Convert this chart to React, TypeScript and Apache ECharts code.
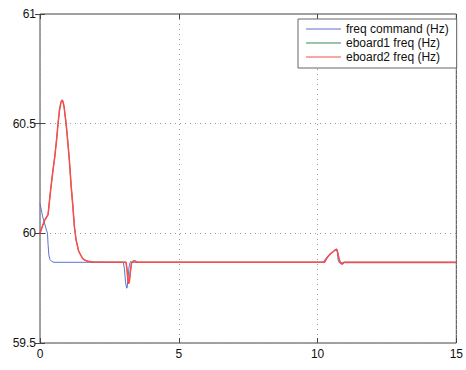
import React, { useEffect, useRef } from "react";
import * as echarts from "echarts";

const xTicks = [0, 5, 10, 15];
const yTicks = [59.5, 60, 60.5, 61];

const seriesNames = ["freq command (Hz)", "eboard1 freq (Hz)", "eboard2 freq (Hz)"];

const cmdT = [0, 0.1, 0.23, 0.27, 0.29, 0.32, 0.36, 0.42, 0.5, 3.0, 3.04, 3.08, 3.12, 3.14, 3.17, 3.21, 3.26, 3.32, 10.2, 10.3, 10.4, 10.5, 10.6, 10.67, 10.71, 10.74, 10.78, 15];
const cmdV = [60.136, 60.074, 60.016, 60.0, 59.95, 59.9, 59.88, 59.872, 59.868, 59.868, 59.84, 59.78, 59.75, 59.752, 59.79, 59.85, 59.872, 59.868, 59.868, 59.885, 59.9, 59.91, 59.92, 59.925, 59.92, 59.88, 59.866, 59.866];

const boardT = [0, 0.08, 0.17, 0.29, 0.38, 0.46, 0.53, 0.6, 0.65, 0.7, 0.75, 0.79, 0.83, 0.87, 0.94, 1.0, 1.06, 1.12, 1.18, 1.24, 1.3, 1.39, 1.47, 1.54, 1.63, 1.72, 1.9, 3.1, 3.13, 3.16, 3.19, 3.22, 3.26, 3.3, 3.35, 3.4, 3.5, 10.25, 10.35, 10.45, 10.55, 10.63, 10.69, 10.73, 10.78, 10.84, 10.9, 10.95, 15];
const eboard1V = [60.0, 60.03, 60.06, 60.085, 60.195, 60.28, 60.347, 60.43, 60.5, 60.56, 60.595, 60.608, 60.6, 60.575, 60.5, 60.42, 60.33, 60.22, 60.13, 60.03, 59.97, 59.92, 59.9, 59.885, 59.877, 59.873, 59.869, 59.868, 59.84, 59.8, 59.77, 59.78, 59.83, 59.865, 59.872, 59.876, 59.868, 59.868, 59.89, 59.905, 59.915, 59.924, 59.928, 59.91, 59.88, 59.862, 59.86, 59.868, 59.868];
const eboard2V = [60.0, 60.03, 60.06, 60.085, 60.195, 60.28, 60.347, 60.43, 60.5, 60.56, 60.595, 60.608, 60.6, 60.575, 60.5, 60.42, 60.33, 60.22, 60.13, 60.03, 59.97, 59.92, 59.9, 59.885, 59.877, 59.873, 59.869, 59.868, 59.84, 59.8, 59.77, 59.78, 59.83, 59.865, 59.872, 59.876, 59.868, 59.868, 59.89, 59.905, 59.915, 59.924, 59.928, 59.91, 59.88, 59.862, 59.86, 59.868, 59.868];

const pairs = (t: number[], v: number[]) => t.map((x, i) => [x, v[i]]);

const FONT = "'Liberation Sans', Arial, Helvetica, sans-serif";

export default function App() {
  const ref = useRef<HTMLDivElement>(null);
  useEffect(() => {
    if (!ref.current) return;
    const chart = echarts.init(ref.current, undefined, { renderer: "svg" });
    const axisCommon = {
      axisLine: { show: false },
      axisTick: { show: true, inside: true, length: 5, lineStyle: { color: "#444" } },
    };
    chart.setOption({
      animation: false,
      backgroundColor: "#ffffff",
      textStyle: { fontFamily: FONT },
      grid: { left: 40, right: 8, top: 14, bottom: 27, show: true, borderColor: "#444", borderWidth: 1, backgroundColor: "#fff" },
      legend: {
        orient: "vertical",
        left: 298,
        top: 19,
        data: seriesNames,
        icon: "rect",
        itemWidth: 35,
        itemHeight: 1,
        itemGap: 0,
        itemTextGap: 5,
        padding: [3, 8, 4, 8],
        borderColor: "#666",
        borderWidth: 1,
        backgroundColor: "#fff",
        textStyle: { fontSize: 12, lineHeight: 14, color: "#111", fontFamily: FONT },
      },
      xAxis: [
        {
          type: "value",
          min: 0,
          max: 15,
          interval: 5,
          position: "bottom",
          ...axisCommon,
          axisLabel: { fontSize: 12, color: "#111", margin: 5, fontFamily: FONT },
          splitLine: { show: true, lineStyle: { type: [1, 4], color: "#999" } },
          data: xTicks,
        },
        {
          type: "value",
          min: 0,
          max: 15,
          interval: 5,
          position: "top",
          ...axisCommon,
          axisLabel: { show: false },
          splitLine: { show: false },
        },
      ],
      yAxis: [
        {
          type: "value",
          min: 59.5,
          max: 61,
          interval: 0.5,
          position: "left",
          ...axisCommon,
          axisLabel: { fontSize: 12, color: "#111", margin: 4, fontFamily: FONT, formatter: (v: number) => String(yTicks.find((t) => Math.abs(t - v) < 1e-6) ?? v) },
          splitLine: { show: true, lineStyle: { type: [1, 4], color: "#999" } },
        },
        {
          type: "value",
          min: 59.5,
          max: 61,
          interval: 0.5,
          position: "right",
          ...axisCommon,
          axisLabel: { show: false },
          splitLine: { show: false },
        },
      ],
      series: [
        {
          name: seriesNames[0],
          type: "line",
          data: pairs(cmdT, cmdV),
          showSymbol: false,
          symbol: "none",
          color: "#5b73d0",
          lineStyle: { width: 1, color: "#5b73d0" },
          z: 3,
        },
        {
          name: seriesNames[1],
          type: "line",
          data: pairs(boardT, eboard1V),
          showSymbol: false,
          symbol: "none",
          color: "#2e8b57",
          lineStyle: { width: 1, color: "#2e8b57" },
          z: 2,
        },
        {
          name: seriesNames[2],
          type: "line",
          data: pairs(boardT, eboard2V),
          showSymbol: false,
          symbol: "none",
          color: "#ff4a4a",
          lineStyle: { width: 1.5, color: "#ff4a4a" },
          z: 4,
        },
      ],
    });
    return () => chart.dispose();
  }, []);
  return <div ref={ref} style={{ position: "fixed", left: 0, top: 0, width: 466, height: 370 }} />;
}
